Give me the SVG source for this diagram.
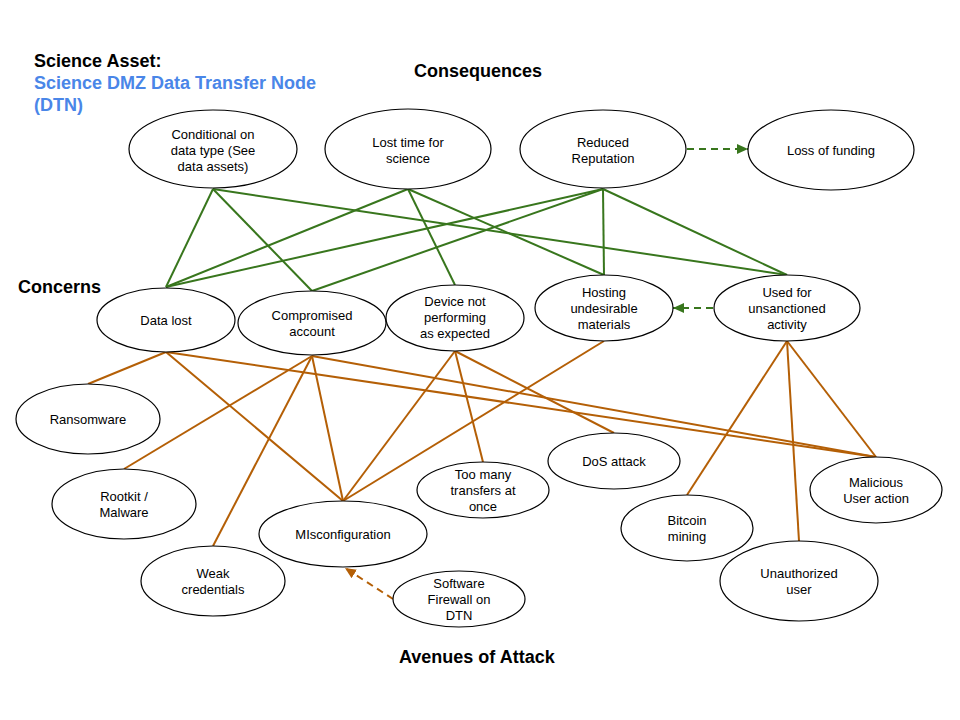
<svg xmlns="http://www.w3.org/2000/svg" width="960" height="720" viewBox="0 0 960 720">
<defs>
<style>
.node ellipse{fill:#ffffff;stroke:#000000;stroke-width:1.2}
.node text,.lbl{font-family:"Liberation Sans",Arial,sans-serif;font-size:13px;fill:#000000;text-anchor:middle}
.title{font-family:"Liberation Sans",Arial,sans-serif;font-size:18px;font-weight:bold;fill:#000000}
.blue{fill:#4a86e8}
.g{stroke:#38761d;stroke-width:2;fill:none}
.o{stroke:#b45f06;stroke-width:2;fill:none}
.dash{stroke-dasharray:7 5}
</style>
<marker id="ag" markerUnits="userSpaceOnUse" markerWidth="12" markerHeight="10" refX="11" refY="5" orient="auto">
<path d="M0,0 L11,5 L0,10 z" fill="#38761d"/>
</marker>
<marker id="ao" markerUnits="userSpaceOnUse" markerWidth="12" markerHeight="10" refX="11" refY="5" orient="auto">
<path d="M0,0 L11,5 L0,10 z" fill="#b45f06"/>
</marker>
</defs>
<rect width="960" height="720" fill="#ffffff"/>

<g id="titles">
<text class="title" x="34" y="67">Science Asset:</text>
<text class="title blue" x="34" y="89">Science DMZ Data Transfer Node</text>
<text class="title blue" x="34" y="111">(DTN)</text>
<text class="title" x="414" y="77">Consequences</text>
<text class="title" x="18" y="293">Concerns</text>
<text class="title" x="399" y="663">Avenues of Attack</text>
</g>

<g id="connectors">
<!-- green: consequences to concerns -->
<line class="g" x1="213" y1="189" x2="166" y2="287"/>
<line class="g" x1="213" y1="189" x2="312" y2="291"/>
<line class="g" x1="213" y1="189" x2="787" y2="275"/>
<line class="g" x1="408" y1="189" x2="166" y2="287"/>
<line class="g" x1="408" y1="189" x2="455" y2="285"/>
<line class="g" x1="408" y1="189" x2="604" y2="275"/>
<line class="g" x1="603" y1="189" x2="166" y2="287"/>
<line class="g" x1="603" y1="189" x2="312" y2="291"/>
<line class="g" x1="603" y1="189" x2="604" y2="275"/>
<line class="g" x1="603" y1="189" x2="787" y2="275"/>
<line class="g dash" x1="687" y1="149" x2="748" y2="149" marker-end="url(#ag)"/>
<line class="g dash" x1="713" y1="308" x2="673" y2="308" marker-end="url(#ag)"/>
<!-- orange: concerns to avenues of attack -->
<line class="o" x1="166" y1="352" x2="88" y2="384"/>
<line class="o" x1="166" y1="352" x2="343" y2="501"/>
<line class="o" x1="166" y1="352" x2="876" y2="457"/>
<line class="o" x1="312" y1="356" x2="124" y2="469"/>
<line class="o" x1="312" y1="356" x2="213" y2="546"/>
<line class="o" x1="312" y1="356" x2="343" y2="501"/>
<line class="o" x1="312" y1="356" x2="876" y2="457"/>
<line class="o" x1="455" y1="351" x2="343" y2="501"/>
<line class="o" x1="455" y1="351" x2="483" y2="462"/>
<line class="o" x1="455" y1="351" x2="614" y2="433"/>
<line class="o" x1="604" y1="341" x2="343" y2="501"/>
<line class="o" x1="787" y1="341" x2="687" y2="495"/>
<line class="o" x1="787" y1="341" x2="799" y2="541"/>
<line class="o" x1="787" y1="341" x2="876" y2="457"/>
<line class="o dash" x1="393" y1="599" x2="345" y2="568" marker-end="url(#ao)"/>
</g>

<g id="cons-conditional" class="node"><ellipse cx="213" cy="149" rx="84" ry="39"/><text x="213" y="139">Conditional on</text><text x="213" y="155">data type (See</text><text x="213" y="171">data assets)</text></g>
<g id="cons-losttime" class="node"><ellipse cx="408" cy="149" rx="83" ry="40"/><text x="408" y="147">Lost time for</text><text x="408" y="163">science</text></g>
<g id="cons-reputation" class="node"><ellipse cx="603" cy="149" rx="83" ry="39"/><text x="603" y="147">Reduced</text><text x="603" y="163">Reputation</text></g>
<g id="cons-funding" class="node"><ellipse cx="831" cy="150" rx="83" ry="40"/><text x="831" y="155">Loss of funding</text></g>

<g id="concern-datalost" class="node"><ellipse cx="166" cy="320" rx="69" ry="32"/><text x="166" y="324.5">Data lost</text></g>
<g id="concern-compromised" class="node"><ellipse cx="312" cy="323" rx="74" ry="32"/><text x="312" y="320">Compromised</text><text x="312" y="336">account</text></g>
<g id="concern-device" class="node"><ellipse cx="455" cy="318" rx="69" ry="33"/><text x="455" y="306">Device not</text><text x="455" y="322">performing</text><text x="455" y="338">as expected</text></g>
<g id="concern-hosting" class="node"><ellipse cx="604" cy="308" rx="69" ry="33"/><text x="604" y="297">Hosting</text><text x="604" y="313">undesirable</text><text x="604" y="329">materials</text></g>
<g id="concern-used" class="node"><ellipse cx="787" cy="308" rx="73" ry="33"/><text x="787" y="297">Used for</text><text x="787" y="313">unsanctioned</text><text x="787" y="329">activity</text></g>

<g id="attack-ransomware" class="node"><ellipse cx="88" cy="419" rx="72" ry="35"/><text x="88" y="423.5">Ransomware</text></g>
<g id="attack-rootkit" class="node"><ellipse cx="124" cy="504" rx="72" ry="35"/><text x="124" y="500.5">Rootkit /</text><text x="124" y="516.5">Malware</text></g>
<g id="attack-weak" class="node"><ellipse cx="213" cy="581" rx="72" ry="35"/><text x="213" y="577.5">Weak</text><text x="213" y="593.5">credentials</text></g>
<g id="attack-misconfig" class="node"><ellipse cx="343" cy="534" rx="84" ry="33"/><text x="343" y="538.5">MIsconfiguration</text></g>
<g id="attack-firewall" class="node"><ellipse cx="459" cy="599" rx="66" ry="28"/><text x="459" y="587.5">Software</text><text x="459" y="603.5">Firewall on</text><text x="459" y="619.5">DTN</text></g>
<g id="attack-toomany" class="node"><ellipse cx="483" cy="490" rx="66" ry="28"/><text x="483" y="478.5">Too many</text><text x="483" y="494.5">transfers at</text><text x="483" y="510.5">once</text></g>
<g id="attack-dos" class="node"><ellipse cx="614" cy="461" rx="66" ry="28"/><text x="614" y="465.5">DoS attack</text></g>
<g id="attack-bitcoin" class="node"><ellipse cx="687" cy="528" rx="66" ry="33"/><text x="687" y="524.5">Bitcoin</text><text x="687" y="540.5">mining</text></g>
<g id="attack-unauth" class="node"><ellipse cx="799" cy="581" rx="79" ry="40"/><text x="799" y="577.5">Unauthorized</text><text x="799" y="593.5">user</text></g>
<g id="attack-malicious" class="node"><ellipse cx="876" cy="490" rx="66" ry="33"/><text x="876" y="486.5">Malicious</text><text x="876" y="502.5">User action</text></g>
</svg>
